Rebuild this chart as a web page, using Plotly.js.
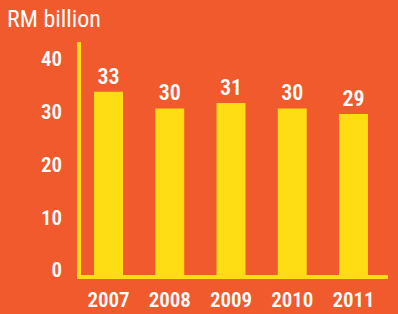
<!DOCTYPE html>
<html>
<head>
<meta charset="utf-8">
<script src="https://cdn.plot.ly/plotly-3.0.1.min.js"></script>
<style>html,body{margin:0;padding:0;background:#F15A2C;}#chart{width:398px;height:314px;}</style>
</head>
<body>
<div id="chart"></div>
<script>
const years = ["2007", "2008", "2009", "2010", "2011"];
const values = [33, 30, 31, 30, 29];
const valueLabels = ["33", "30", "31", "30", "29"];
const yTicks = [0, 10, 20, 30, 40];
const yTickLabels = ["0", "10", "20", "30", "40"];

const ORANGE = "#F15A2C";
const YELLOW = "#FFDD14";
const FONT = "'Roboto Condensed', 'Liberation Sans', sans-serif";

const bars = {
  type: "bar",
  x: years,
  y: values,
  text: valueLabels,
  textposition: "outside",
  cliponaxis: false,
  textfont: {family: FONT, size: 22, color: "#ffffff", weight: 600, stretch: "condensed"},
  marker: {color: YELLOW, line: {width: 0}},
  hoverinfo: "skip",
  xaxis: "x",
  yaxis: "y"
};

const tickHolder = {
  type: "scatter",
  x: [years[0]],
  y: [yTicks[0]],
  mode: "markers",
  marker: {opacity: 0},
  hoverinfo: "skip",
  showlegend: false,
  xaxis: "x",
  yaxis: "y2"
};

const layout = {
  width: 398,
  height: 314,
  paper_bgcolor: ORANGE,
  plot_bgcolor: ORANGE,
  showlegend: false,
  margin: {l: 81, r: 10, t: 42, b: 39, pad: 0},
  bargap: 0.527,
  title: {
    text: "RM billion",
    font: {family: FONT, size: 24, color: "#ffffff", weight: 400, stretch: "condensed"},
    xref: "container", yref: "container",
    x: 7 / 398, xanchor: "left",
    y: 1 - 19 / 314, yanchor: "middle"
  },
  xaxis: {
    type: "category",
    range: [-0.449, 4.563],
    showgrid: false,
    zeroline: false,
    showline: true,
    linecolor: YELLOW,
    linewidth: 4,
    ticks: "",
    tickfont: {family: FONT, size: 21, color: "#ffffff", weight: 600, stretch: "condensed"},
    ticklabelstandoff: 3,
    fixedrange: true
  },
  yaxis: {
    range: [0, 41.98],
    showgrid: false,
    zeroline: false,
    showline: true,
    linecolor: YELLOW,
    linewidth: 4,
    ticks: "",
    showticklabels: false,
    fixedrange: true
  },
  yaxis2: {
    overlaying: "y",
    side: "left",
    range: [-0.95, 43.22],
    tickmode: "array",
    tickvals: yTicks,
    ticktext: yTickLabels,
    showgrid: false,
    zeroline: false,
    showline: false,
    ticks: "",
    tickfont: {family: FONT, size: 21, color: "#ffffff", weight: 600, stretch: "condensed"},
    ticklabelstandoff: 18,
    fixedrange: true
  }
};

Plotly.newPlot("chart", [bars, tickHolder], layout, {staticPlot: true, displayModeBar: false});
</script>
</body>
</html>
